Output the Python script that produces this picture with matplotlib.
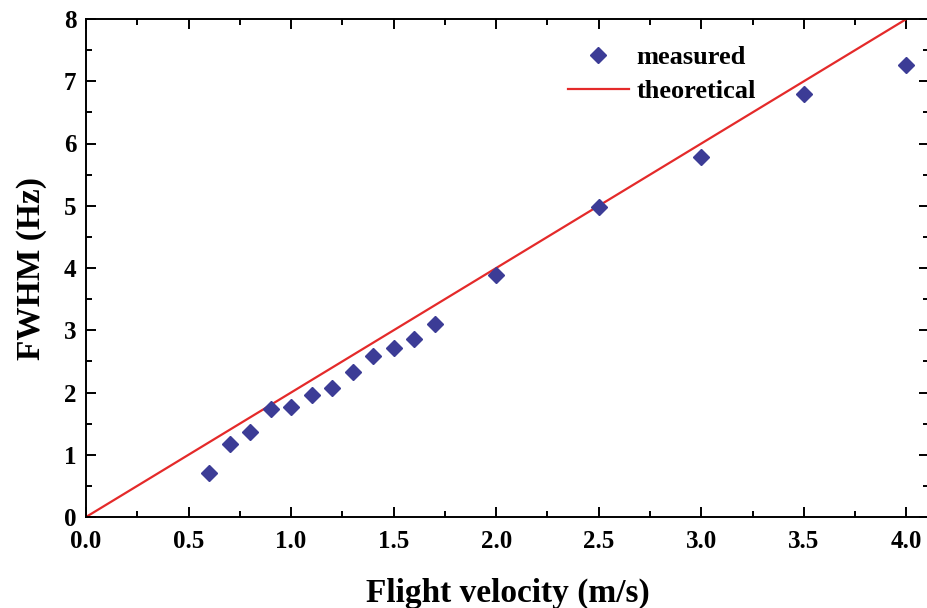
import numpy as np
import matplotlib
matplotlib.use('Agg')
import matplotlib.pyplot as plt
from matplotlib.ticker import MultipleLocator

# measured FWHM vs flight velocity
velocity = [0.6, 0.7, 0.8, 0.9, 1.0, 1.1, 1.2, 1.3, 1.4, 1.5, 1.6, 1.7, 2.0, 2.5, 3.0, 3.5, 4.0]
fwhm = [0.71, 1.17, 1.37, 1.73, 1.77, 1.96, 2.08, 2.33, 2.59, 2.72, 2.86, 3.10, 3.89, 4.98, 5.79, 6.80, 7.26]

# theoretical line
theo_v = [0.0, 4.1]
theo_f = [0.0, 8.2]

plt.rcParams['font.family'] = ['Liberation Serif', 'DejaVu Serif']
plt.rcParams['font.weight'] = 'bold'

fig = plt.figure(figsize=(9.28, 6.08), dpi=100)
ax = fig.add_axes([86/928, 1-517/608, (929-86)/928, (517-19)/608])

ax.plot(theo_v, theo_f, color='#e42a2a', lw=1.6, label='theoretical', zorder=2)
ax.plot(velocity, fwhm, linestyle='none', marker='D', markersize=8.5,
        color='#3c3c96', label='measured', zorder=3)

ax.set_xlim(0, 4.11)
ax.set_ylim(0, 8)
ax.xaxis.set_major_locator(MultipleLocator(0.5))
ax.xaxis.set_minor_locator(MultipleLocator(0.25))
ax.yaxis.set_major_locator(MultipleLocator(1))
ax.yaxis.set_minor_locator(MultipleLocator(0.5))
ax.xaxis.set_major_formatter(plt.FormatStrFormatter('%.1f'))
ax.tick_params(which='both', direction='in', top=True, right=True, width=1.4)
ax.tick_params(which='major', length=7, labelsize=18)
ax.tick_params(axis='x', which='major', pad=9)
ax.tick_params(axis='y', which='major', pad=7)
ax.tick_params(which='minor', length=4)
for s in ax.spines.values():
    s.set_linewidth(1.4)

ax.set_xlabel('Flight velocity (m/s)', fontsize=24, fontweight='bold', labelpad=18)
ax.set_ylabel('FWHM (Hz)', fontsize=24, fontweight='bold', labelpad=12)

h, l = ax.get_legend_handles_labels()
fig.legend(h[::-1], l[::-1], loc='upper left', bbox_to_anchor=(568/928, 1-46/608),
           bbox_transform=fig.transFigure, frameon=False, borderpad=0, borderaxespad=0,
           handlelength=2.3, handletextpad=0.3, labelspacing=0.38,
           prop={'weight': 'bold', 'size': 19})

fig.savefig('out.png', dpi=100)
